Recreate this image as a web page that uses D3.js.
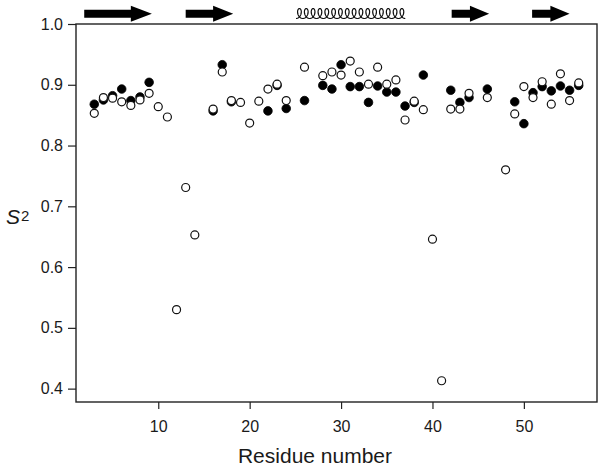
<!DOCTYPE html>
<html><head><meta charset="utf-8">
<script src="https://cdn.jsdelivr.net/npm/d3@7"></script>
<style>
body{margin:0;background:#fff}
svg{display:block}
text{font-family:Arial,"Liberation Sans",sans-serif;fill:#1a1a1a}
</style>
</head><body><svg id="c" width="604" height="469"></svg>
<script>
// ---- data ----
const xTicks = [10, 20, 30, 40, 50];
const yTicks = [0.4, 0.5, 0.6, 0.7, 0.8, 0.9, 1.0];

const filledResidues = [3,4,5,6,7,8,9,16,17,18,22,23,24,26,28,29,30,31,32,33,34,35,36,37,38,39,42,43,44,46,49,50,51,52,53,54,55,56];
const filledS2 = [0.868,0.875,0.882,0.893,0.874,0.880,0.904,0.857,0.933,0.872,0.857,0.899,0.861,0.874,0.899,0.893,0.933,0.897,0.897,0.871,0.898,0.888,0.888,0.865,0.871,0.916,0.891,0.871,0.879,0.893,0.872,0.836,0.887,0.897,0.890,0.898,0.891,0.899];

const openResidues = [3,4,5,6,7,8,9,10,11,12,13,14,16,17,18,19,20,21,22,23,24,26,28,29,30,31,32,33,34,35,36,37,38,39,40,41,42,43,44,46,48,49,50,51,52,53,54,55,56];
const openS2 = [0.853,0.879,0.878,0.872,0.866,0.875,0.886,0.864,0.847,0.530,0.731,0.653,0.860,0.921,0.874,0.871,0.837,0.873,0.893,0.901,0.874,0.929,0.915,0.921,0.916,0.939,0.921,0.901,0.929,0.901,0.908,0.842,0.873,0.859,0.646,0.413,0.860,0.860,0.886,0.879,0.760,0.852,0.897,0.879,0.905,0.868,0.918,0.874,0.903];

// secondary structure (residue numbers): [start, head start, tip]
const strandStart = [1.9, 13.0, 42.1, 50.9];
const strandHead  = [7.0, 16.0, 44.1, 52.9];
const strandEnd   = [9.3, 18.2, 46.2, 55.0];
const helixStart = [24.7];
const helixEnd   = [37.4];

// ---- layout ----
const svg = d3.select("#c");
const L = 76, R = 597, T = 24, B = 402;
const x = d3.scaleLinear().domain([1, 58]).range([L, R]);
const y = d3.scaleLinear().domain([0.378, 1.0]).range([B, T]);

// axes
const yAxis = d3.axisLeft(y).tickValues(yTicks).tickFormat(d3.format(".1f")).tickSize(8).tickPadding(5);
const gy = svg.append("g").attr("transform", `translate(${L},0)`).call(yAxis);
const xAxis = d3.axisBottom(x).tickValues(xTicks).tickFormat(d3.format("d")).tickSize(7).tickPadding(12);
const gx = svg.append("g").attr("transform", `translate(0,${B})`).call(xAxis);
[gx, gy].forEach(g => {
  g.select(".domain").remove();
  g.selectAll(".tick line").attr("stroke", "#222").attr("stroke-width", 1.2);
  g.selectAll(".tick text").attr("font-size", 16).attr("fill", "#1a1a1a").attr("font-family", "Arial, 'Liberation Sans', sans-serif");
});

// frame
svg.append("rect").attr("x", L).attr("y", T).attr("width", R - L).attr("height", B - T)
  .attr("fill", "none").attr("stroke", "#222").attr("stroke-width", 1.4);

// axis titles
svg.append("text").attr("x", 315).attr("y", 463).attr("text-anchor", "middle")
  .attr("font-size", 21).text("Residue number");
const yl = svg.append("text").attr("x", 6).attr("y", 224).attr("font-size", 21);
yl.append("tspan").attr("font-style", "italic").text("S");
yl.append("tspan").attr("font-size", 15).attr("dy", -3).attr("dx", 1).text("2");

// points: filled first, open on top
svg.append("g").selectAll("circle").data(filledResidues).join("circle")
  .attr("cx", d => x(d)).attr("cy", (d, i) => y(filledS2[i])).attr("r", 4.3)
  .attr("fill", "#000").attr("stroke", "#000").attr("stroke-width", 0.8);
svg.append("g").selectAll("circle").data(openResidues).join("circle")
  .attr("cx", d => x(d)).attr("cy", (d, i) => y(openS2[i])).attr("r", 4)
  .attr("fill", "#fff").attr("stroke", "#111").attr("stroke-width", 1.2);

// beta strands (arrows)
const yc = 13.7;
const arrows = strandStart.map((s, i) => [s, strandHead[i], strandEnd[i]]);
svg.append("g").selectAll("path").data(arrows).join("path")
  .attr("d", d => {
    const a = x(d[0]), h = x(d[1]), t = x(d[2]);
    return `M${a},${yc-4}L${h},${yc-4}L${h},${yc-8}L${t},${yc}L${h},${yc+8}L${h},${yc+4}L${a},${yc+4}Z`;
  })
  .attr("fill", "#000");

// helix coil
helixStart.forEach((hs, k) => {
  const x0 = x(hs), x1 = x(helixEnd[k]);
  const n = 16, rx = 3.4, ry = 5.0, hy = 13.5;
  const p = (x1 - x0 - 2 * rx) / n;
  const pts = [];
  const steps = n * 40;
  for (let j = 0; j <= steps; j++) {
    const th = Math.PI + (j / steps) * 2 * Math.PI * n;
    const px = x0 + rx + p * (th - Math.PI) / (2 * Math.PI) - rx * Math.sin(th);
    const py = hy - ry * Math.cos(th);
    pts.push([px, py]);
  }
  svg.append("path").attr("d", d3.line()(pts)).attr("fill", "none")
    .attr("stroke", "#111").attr("stroke-width", 1.2);
});
</script>
</body></html>
